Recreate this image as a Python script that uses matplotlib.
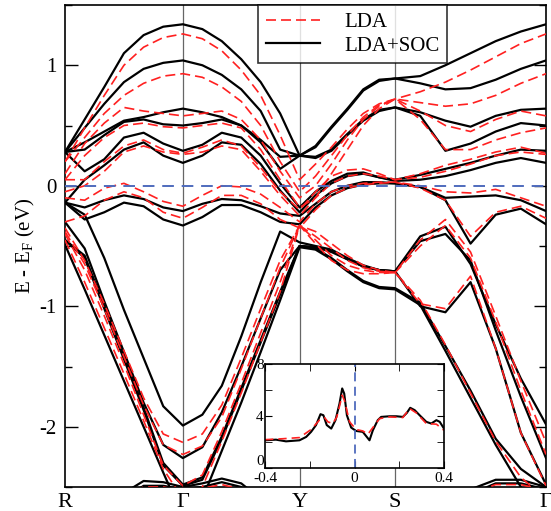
import numpy as np
import matplotlib
matplotlib.use("Agg")
import matplotlib.pyplot as plt

plt.rcParams["font.family"] = ["Liberation Serif", "DejaVu Serif"]

# high-symmetry points along the path (path distance, arbitrary units)
k_labels = ["R", "Γ", "Y", "S", "Γ"]
k_nodes = [0.0, 1.0, 1.99, 2.80, 4.08]
n_per_seg = 7

# band energies (eV), 25 samples: R-G (7), G-Y (6), Y-S (6), S-G (6)
soc_bands = [
    [0.28, 0.55, 0.82, 1.10, 1.25, 1.32, 1.34, 1.30, 1.20, 1.05, 0.86, 0.60, 0.25,
     0.33, 0.49, 0.64, 0.80, 0.88, 0.89, 0.91, 1.00, 1.10, 1.20, 1.28, 1.34],
    [0.28, 0.48, 0.68, 0.86, 0.97, 1.02, 1.04, 1.00, 0.92, 0.80, 0.62, 0.30, 0.25,
     0.32, 0.48, 0.63, 0.79, 0.87, 0.89, 0.85, 0.80, 0.81, 0.88, 0.97, 1.04],
    [0.28, 0.36, 0.45, 0.54, 0.57, 0.61, 0.64, 0.61, 0.57, 0.50, 0.38, 0.24, 0.25,
     0.24, 0.30, 0.43, 0.55, 0.63, 0.65, 0.61, 0.54, 0.49, 0.58, 0.63, 0.64],
    [0.28, 0.30, 0.42, 0.53, 0.55, 0.51, 0.50, 0.52, 0.55, 0.50, 0.36, 0.14, 0.25,
     0.23, 0.29, 0.42, 0.54, 0.62, 0.65, 0.58, 0.29, 0.35, 0.45, 0.52, 0.50],
    [0.28, 0.12, 0.22, 0.40, 0.44, 0.35, 0.29, 0.34, 0.44, 0.40, 0.25, 0.02, -0.18,
     -0.05, 0.04, 0.10, 0.11, 0.07, 0.05, 0.09, 0.14, 0.19, 0.25, 0.30, 0.29],
    [-0.14, 0.05, 0.17, 0.30, 0.36, 0.25, 0.19, 0.25, 0.36, 0.34, 0.18, -0.04, -0.22,
     -0.08, 0.02, 0.08, 0.10, 0.07, 0.04, 0.05, 0.08, 0.13, 0.19, 0.23, 0.19],
    [-0.14, -0.18, -0.12, -0.08, -0.11, -0.18, -0.21, -0.15, -0.11, -0.12, -0.17, -0.23, -0.25,
     -0.15, -0.05, 0.00, 0.03, 0.03, 0.02, -0.01, -0.10, -0.09, -0.08, -0.12, -0.21],
    [-0.14, -0.28, -0.22, -0.14, -0.17, -0.28, -0.33, -0.26, -0.16, -0.16, -0.22, -0.30, -0.32,
     -0.18, -0.08, -0.02, 0.01, 0.02, 0.02, -0.01, -0.12, -0.48, -0.24, -0.19, -0.32],
    [-0.14, -0.24, -0.60, -1.03, -1.43, -1.83, -1.99, -1.90, -1.66, -1.25, -0.80, -0.38, -0.47,
     -0.50, -0.53, -0.60, -0.66, -0.70, -0.71, -0.42, -0.34, -0.65, -1.15, -1.60, -1.98],
    [-0.30, -0.52, -0.96, -1.38, -1.80, -2.15, -2.26, -2.17, -1.88, -1.50, -1.10, -0.70, -0.50,
     -0.51, -0.54, -0.61, -0.67, -0.70, -0.71, -0.46, -0.40, -0.62, -1.20, -1.75, -2.26],
    [-0.45, -0.58, -1.00, -1.42, -1.84, -2.30, -2.48, -2.42, -2.08, -1.68, -1.28, -0.88, -0.50,
     -0.51, -0.55, -0.61, -0.67, -0.70, -0.71, -1.00, -1.05, -0.80, -1.35, -2.05, -2.48],
    [-0.45, -0.60, -1.02, -1.44, -1.86, -2.32, -2.49, -2.44, -2.10, -1.70, -1.30, -0.90, -0.50,
     -0.52, -0.60, -0.70, -0.79, -0.84, -0.85, -0.97, -1.33, -1.70, -2.10, -2.35, -2.50],
    [-0.49, -0.86, -1.24, -1.62, -2.00, -2.38, -2.75, -2.60, -2.20, -1.80, -1.38, -0.95, -0.51,
     -0.53, -0.61, -0.71, -0.80, -0.85, -0.86, -0.99, -1.37, -1.76, -2.15, -2.50, -2.80],
    [-3.20, -3.00, -2.80, -2.55, -2.45, -2.46, -2.50, -2.47, -2.43, -2.47, -2.60, -2.85, -3.10,
     -3.10, -3.10, -3.10, -3.10, -3.10, -3.10, -3.00, -2.80, -2.52, -2.44, -2.44, -2.50],
    [-3.25, -3.05, -2.85, -2.60, -2.49, -2.49, -2.52, -2.50, -2.46, -2.50, -2.65, -2.90, -3.15,
     -3.15, -3.15, -3.15, -3.15, -3.15, -3.15, -3.05, -2.85, -2.56, -2.47, -2.47, -2.52],
]

lda_bands = [
    [0.20, 0.48, 0.75, 1.00, 1.15, 1.23, 1.26, 1.22, 1.12, 0.96, 0.75, 0.42, 0.05,
     0.18, 0.32, 0.47, 0.60, 0.68, 0.72, 0.78, 0.86, 0.96, 1.07, 1.18, 1.26],
    [0.20, 0.40, 0.60, 0.75, 0.85, 0.91, 0.93, 0.90, 0.82, 0.70, 0.50, 0.20, -0.05,
     0.08, 0.25, 0.42, 0.57, 0.67, 0.72, 0.69, 0.66, 0.68, 0.75, 0.85, 0.93],
    [0.10, 0.35, 0.52, 0.65, 0.62, 0.60, 0.58, 0.60, 0.62, 0.55, 0.38, 0.12, -0.10,
     0.00, 0.18, 0.38, 0.55, 0.66, 0.72, 0.62, 0.50, 0.45, 0.55, 0.62, 0.58],
    [0.05, 0.25, 0.40, 0.50, 0.52, 0.49, 0.48, 0.50, 0.52, 0.48, 0.30, 0.05, -0.18,
     -0.10, 0.10, 0.30, 0.50, 0.64, 0.72, 0.55, 0.30, 0.30, 0.38, 0.44, 0.48],
    [0.05, 0.05, 0.20, 0.33, 0.38, 0.30, 0.27, 0.32, 0.38, 0.33, 0.15, -0.05, -0.20,
     -0.05, 0.08, 0.13, 0.14, 0.10, 0.05, 0.10, 0.17, 0.22, 0.28, 0.32, 0.27],
    [-0.05, 0.00, 0.12, 0.28, 0.33, 0.28, 0.26, 0.28, 0.33, 0.30, 0.12, -0.08, -0.25,
     -0.10, 0.02, 0.08, 0.10, 0.08, 0.05, 0.07, 0.12, 0.18, 0.25, 0.28, 0.26],
    [-0.10, -0.12, -0.02, 0.02, -0.05, -0.13, -0.17, -0.08, 0.00, -0.01, -0.07, -0.18, -0.30,
     -0.15, -0.05, 0.00, 0.02, 0.03, 0.03, 0.00, -0.05, -0.06, -0.03, -0.10, -0.17],
    [-0.30, -0.25, -0.12, -0.05, -0.10, -0.22, -0.27, -0.18, -0.08, -0.08, -0.15, -0.28, -0.35,
     -0.20, -0.08, -0.02, 0.01, 0.02, 0.03, -0.02, -0.12, -0.42, -0.22, -0.17, -0.27],
    [-0.35, -0.62, -0.98, -1.37, -1.76, -2.06, -2.13, -2.06, -1.82, -1.43, -1.02, -0.62, -0.33,
     -0.38, -0.48, -0.58, -0.66, -0.70, -0.72, -0.45, -0.28, -0.55, -1.08, -1.62, -2.13],
    [-0.38, -0.65, -1.02, -1.42, -1.82, -2.15, -2.23, -2.16, -1.92, -1.52, -1.10, -0.68, -0.33,
     -0.45, -0.58, -0.66, -0.70, -0.72, -0.72, -0.50, -0.33, -0.60, -1.13, -1.70, -2.23],
    [-0.40, -0.70, -1.08, -1.48, -1.90, -2.32, -2.49, -2.40, -2.04, -1.64, -1.22, -0.80, -0.33,
     -0.42, -0.52, -0.62, -0.68, -0.71, -0.72, -0.98, -1.02, -0.75, -1.35, -2.05, -2.49],
    [-0.45, -0.80, -1.18, -1.56, -1.95, -2.35, -2.60, -2.50, -2.12, -1.72, -1.30, -0.88, -0.33,
     -0.48, -0.62, -0.70, -0.73, -0.73, -0.72, -0.95, -1.32, -1.72, -2.12, -2.42, -2.60],
    [-3.20, -3.00, -2.82, -2.58, -2.50, -2.50, -2.53, -2.51, -2.48, -2.52, -2.65, -2.90, -3.15,
     -3.15, -3.15, -3.15, -3.15, -3.15, -3.15, -3.05, -2.85, -2.55, -2.48, -2.48, -2.53],
]

# inset: density of states near E_F
dos_e_soc = [-0.400, -0.351, -0.306, -0.246, -0.216, -0.194, -0.172, -0.152, -0.139, -0.124,
             -0.104, -0.085, -0.067, -0.055, -0.046, -0.034, -0.015, 0.007, 0.037, 0.055,
             0.067, 0.082, 0.104, 0.119, 0.157, 0.187, 0.216, 0.234, 0.249, 0.269,
             0.291, 0.321, 0.343, 0.366, 0.381, 0.400]
dos_soc = [2.13, 2.18, 2.05, 2.13, 2.39, 2.78, 3.30, 4.14, 4.06, 3.30,
           3.03, 3.68, 4.96, 6.12, 5.73, 4.06, 3.11, 2.85, 2.78, 2.39,
           2.13, 2.90, 3.68, 3.93, 3.98, 3.98, 3.93, 4.24, 4.63, 4.45,
           4.06, 3.55, 3.42, 3.68, 3.55, 3.03]
dos_e_lda = [-0.400, -0.321, -0.246, -0.194, -0.157, -0.134, -0.119, -0.097, -0.079, -0.064,
             -0.055, -0.045, -0.022, 0.007, 0.037, 0.060, 0.082, 0.112, 0.157, 0.216,
             0.246, 0.276, 0.321, 0.366, 0.400]
dos_lda = [2.18, 2.25, 2.34, 2.96, 3.68, 3.88, 3.55, 3.42, 3.93, 4.96,
           5.60, 5.20, 3.55, 2.96, 2.85, 2.60, 3.11, 3.80, 3.93, 3.88,
           4.58, 4.24, 3.42, 3.37, 2.90]

# k grid along the path
k = np.concatenate([np.linspace(k_nodes[i], k_nodes[i + 1], n_per_seg)[(0 if i == 0 else 1):]
                    for i in range(len(k_nodes) - 1)])

fig = plt.figure(figsize=(5.51, 5.11), dpi=100)
ax = fig.add_axes([65 / 551, 24 / 511, 481 / 551, 482 / 511])

for i, b in enumerate(soc_bands):
    ax.plot(k, b, color="black", lw=1.6, zorder=3,
            label="LDA+SOC" if i == 0 else None)
for i, b in enumerate(lda_bands):
    ax.plot(k, b, color="#ff2020", lw=1.2, ls=(0, (6, 3)), zorder=4,
            label="LDA" if i == 0 else None)

for kn in k_nodes[1:-1]:
    ax.axvline(kn, color="0.4", lw=0.9, zorder=1)
ax.axhline(0.0, color="#4f6bbd", lw=1.4, ls=(0, (6, 4)), zorder=5)

ax.set_xlim(k_nodes[0], k_nodes[-1])
ax.set_ylim(-2.5, 1.5)
ax.set_xticks(k_nodes)
ax.set_xticklabels(k_labels, fontsize=16)
ax.tick_params(axis="x", length=0, pad=4)
ax.set_yticks([-2, -1, 0, 1])
ax.set_yticklabels(["-2", "-1", "0", "1"], fontsize=15)
ax.set_yticks([-2.5, -1.5, -0.5, 0.5, 1.5], minor=True)
ax.tick_params(axis="y", which="major", direction="in", length=9, width=1,
               left=True, right=True, pad=6)
ax.tick_params(axis="y", which="minor", direction="in", length=5, width=1,
               left=True, right=True)
ax.set_ylabel("E - E$_\\mathregular{F}$ (eV)", fontsize=15, labelpad=2)
for s in ax.spines.values():
    s.set_linewidth(1.2)

h, l = ax.get_legend_handles_labels()
leg = ax.legend([h[1], h[0]], [l[1], l[0]], loc="upper left",
                bbox_to_anchor=(0.402, 1.0), borderaxespad=0.0, fontsize=15,
                frameon=True, fancybox=False, handlelength=2.6, borderpad=0.35,
                labelspacing=0.2, handletextpad=1.2)
leg.get_frame().set_edgecolor("black")
leg.get_frame().set_linewidth(1.2)
leg.set_zorder(10)

# inset
ins = fig.add_axes([265 / 551, 43 / 511, 179 / 551, 104 / 511])
ins.plot(dos_e_soc, dos_soc, color="black", lw=1.5)
ins.plot(dos_e_lda, dos_lda, color="#ff2020", lw=1.2, ls=(0, (5, 3)))
ins.axvline(0.0, color="#4f6bbd", lw=1.3, ls=(0, (5, 3)))
ins.set_xlim(-0.4, 0.4)
ins.set_ylim(0, 8)
ins.set_xticks([-0.4, 0, 0.4])
ins.set_xticklabels(["-0.4", "0", "0.4"], fontsize=11)
ins.set_xticks([-0.2, 0.2], minor=True)
ins.set_yticks([0, 4, 8])
ins.set_yticklabels(["0", "4", "8"], fontsize=11)
ins.set_yticks([2, 6], minor=True)
ins.tick_params(which="both", direction="in", top=True, right=True)
ins.tick_params(axis="x", pad=3)
ins.tick_params(axis="y", pad=1)
ins.tick_params(which="major", length=5)
ins.tick_params(which="minor", length=5)
ins.get_yticklabels()[0].set_verticalalignment("bottom")
for s in ins.spines.values():
    s.set_linewidth(1.2)

fig.savefig("out.png", dpi=100)
plt.close(fig)
